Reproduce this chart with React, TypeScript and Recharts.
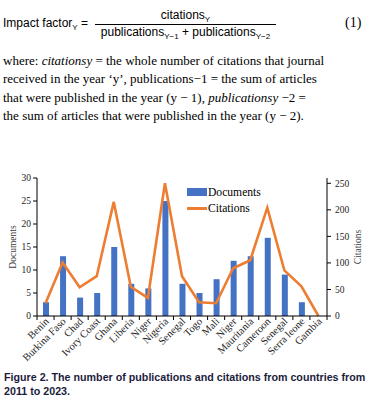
import { ComposedChart, Bar, Line, XAxis, YAxis, Legend } from "recharts";

const countries = [
  "Benin", "Burkina Faso", "Chad", "Ivory Coast", "Ghana", "Liberia", "Niger", "Nigeria", "Senegal",
  "Togo", "Mali", "Niger", "Mauritania", "Cameroon", "Senegal", "Serra leone", "Gambia",
];
const documents = [3, 13, 4, 5, 15, 7, 6, 25, 7, 5, 8, 12, 13, 17, 9, 3, 0];
const citations = [24, 101, 54, 75, 215, 55, 34, 250, 75, 26, 24, 90, 105, 204, 86, 56, 0];
const documentTicks = [0, 5, 10, 15, 20, 25, 30];
const citationTicks = [0, 50, 100, 150, 200, 250];

const data = countries.map((name, i) => ({ name, documents: documents[i], citations: citations[i] }));

const SERIF = "'Liberation Serif', 'Times New Roman', serif";
const SANS = "'Liberation Sans', Arial, sans-serif";
const BLUE = "#4472C4";
const ORANGE = "#ED7D31";

// plot area is 290px wide (376 - 37 left axis - 49 right axis)
const BAND = 290 / countries.length;
const TICK = 4;

function CountryTick(props: any) {
  const { x, y, payload, index } = props;
  const axisY = y - TICK;
  return (
    <g>
      <line x1={x - BAND / 2} y1={axisY} x2={x - BAND / 2} y2={axisY + TICK} stroke="#000" />
      {index === countries.length - 1 && (
        <line x1={x + BAND / 2} y1={axisY} x2={x + BAND / 2} y2={axisY + TICK} stroke="#000" />
      )}
      <text
        x={x + 4}
        y={y + 2}
        transform={`rotate(-45 ${x + 4} ${y + 2})`}
        textAnchor="end"
        fontSize={10.5}
        fontFamily={SERIF}
        fill="#222"
      >
        {payload.value}
      </text>
    </g>
  );
}

function LegendBox() {
  const row = { display: "flex", alignItems: "center", height: 16 } as const;
  return (
    <div style={{ fontFamily: SERIF, fontSize: 11.6, color: "#000" }}>
      <div style={row}>
        <span style={{ width: 20, height: 8, background: BLUE, marginRight: 1 }} />
        Documents
      </div>
      <div style={row}>
        <span style={{ width: 20, height: 3, background: ORANGE, marginRight: 1 }} />
        Citations
      </div>
    </div>
  );
}

const sub = { fontSize: 8, verticalAlign: "-3px" } as const;
const valueTick = { fontSize: 9.5, fontFamily: SERIF, fill: "#222" };

export default function App() {
  return (
    <div style={{ position: "absolute", left: 0, top: 0, width: 376, height: 405, background: "#fff", overflow: "hidden", color: "#000" }}>
      {/* formula */}
      <div style={{ position: "absolute", left: 3, top: 16, fontFamily: SANS, fontSize: 12, lineHeight: "14px", whiteSpace: "nowrap" }}>
        Impact factor<span style={sub}>Y</span> =
      </div>
      <div style={{ position: "absolute", left: 95, top: 8, width: 181, textAlign: "center", fontFamily: SANS, fontSize: 12, lineHeight: "14px" }}>
        citations<span style={sub}>Y</span>
      </div>
      <div style={{ position: "absolute", left: 95, top: 24, width: 181, height: 1, background: "#000" }} />
      <div style={{ position: "absolute", left: 95, top: 25, width: 181, textAlign: "center", fontFamily: SANS, fontSize: 12, lineHeight: "14px", whiteSpace: "nowrap" }}>
        publications<span style={sub}>Y−1</span> + publications<span style={sub}>Y−2</span>
      </div>
      <div style={{ position: "absolute", left: 345, top: 15, fontFamily: SERIF, fontSize: 14, lineHeight: "16px" }}>(1)</div>

      {/* text */}
      <div style={{ position: "absolute", left: 3, top: 52, fontFamily: SERIF, fontSize: 13, lineHeight: "18.3px", whiteSpace: "nowrap" }}>
        where: <i>citationsy</i> = the whole number of citations that journal
        <br />
        received in the year ‘y’, publications−1 = the sum of articles
        <br />
        that were published in the year (y − 1), <i>publicationsy</i> −2 =
        <br />
        the sum of articles that were published in the year (y − 2).
      </div>

      <div style={{ position: "absolute", left: 0, top: 165, fontFamily: SERIF }}>
        <ComposedChart width={376} height={200} data={data} margin={{ top: 13, right: 0, bottom: 6, left: 0 }}>
          <XAxis
            dataKey="name"
            height={43}
            interval={0}
            tickSize={TICK}
            tickMargin={0}
            tickLine={false}
            axisLine={{ stroke: "#000" }}
            tick={(p: any) => <CountryTick {...p} />}
          />
          <YAxis
            yAxisId="left"
            width={37}
            domain={[0, 30]}
            ticks={documentTicks}
            interval={0}
            tickSize={TICK}
            tickMargin={2}
            axisLine={{ stroke: "#000" }}
            tickLine={{ stroke: "#000" }}
            tick={valueTick}
            label={{ value: "Documents", angle: -90, position: "center", dx: -6, fontSize: 9.5, fontFamily: SERIF, fill: "#404040" }}
          />
          <YAxis
            yAxisId="right"
            orientation="right"
            width={49}
            domain={[0, 260]}
            ticks={citationTicks}
            interval={0}
            tickSize={TICK}
            tickMargin={4}
            axisLine={{ stroke: "#000" }}
            tickLine={{ stroke: "#000" }}
            tick={valueTick}
            label={{ value: "Citations", angle: -90, position: "center", dx: 6.5, fontSize: 9.5, fontFamily: SERIF, fill: "#404040" }}
          />
          <Legend
            layout="vertical"
            align="center"
            verticalAlign="middle"
            wrapperStyle={{ left: 187, top: 19, width: 90 }}
            content={() => <LegendBox />}
          />
          <Bar yAxisId="left" dataKey="documents" fill={BLUE} barSize={6} isAnimationActive={false} />
          <Line
            yAxisId="right"
            type="linear"
            dataKey="citations"
            stroke={ORANGE}
            strokeWidth={2.6}
            dot={false}
            isAnimationActive={false}
          />
        </ComposedChart>
      </div>

      {/* caption */}
      <div
        style={{
          position: "absolute",
          left: 4,
          top: 370,
          fontFamily: SANS,
          fontWeight: "bold",
          fontSize: 11.5,
          lineHeight: "14px",
          color: "#1c1c3c",
          whiteSpace: "nowrap",
          transform: "scaleX(0.93)",
          transformOrigin: "left top",
        }}
      >
        Figure 2. The number of publications and citations from countries from
        <br />
        2011 to 2023.
      </div>
    </div>
  );
}
